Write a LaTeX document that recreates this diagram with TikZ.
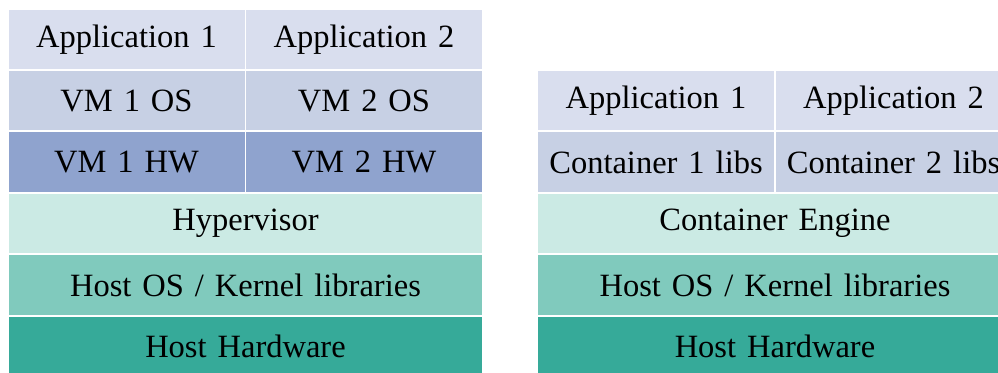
\documentclass[tikz,border=0pt]{standalone}
\usepackage{fontspec}
\setmainfont[WordSpace=1.35]{Liberation Serif}
\definecolor{appc}{RGB}{217,222,238}
\definecolor{osc}{RGB}{199,208,228}
\definecolor{hwc}{RGB}{143,163,206}
\definecolor{hypc}{RGB}{203,234,228}
\definecolor{hostosc}{RGB}{128,202,189}
\definecolor{hosthwc}{RGB}{54,170,153}
\begin{document}
\begin{tikzpicture}[x=1pt,y=-1pt,
  cell/.style={rectangle, draw=white, line width=1.5pt, inner sep=0pt, outer sep=0pt,
    font=\fontsize{32.5}{36}\selectfont, text=black},
  half/.style={cell, minimum width=237.5pt, minimum height=61.3pt},
  full/.style={cell, minimum width=475pt, minimum height=61.3pt}]
\useasboundingbox (0,0) rectangle (998,372);
\clip (0,0) rectangle (998,372);
% left stack
\node[half, fill=appc] (la1) at (126.5,39.5) {Application 1};
\node[half, fill=appc] (la2) at (364,39.5) {Application 2};
\node[half, fill=osc] (los1) at (126.5,100.5) {VM 1 OS};
\node[half, fill=osc] (los2) at (364,100.5) {VM 2 OS};
\node[half, fill=hwc] (lhw1) at (126.5,162) {VM 1 HW};
\node[half, fill=hwc] (lhw2) at (364,162) {VM 2 HW};
\node[full, fill=hypc] (lhyp) at (245.5,223.5) {Hypervisor};
\node[full, fill=hostosc] (lhos) at (245.5,285) {Host OS / Kernel libraries};
\node[full, fill=hosthwc] (lhhw) at (245.5,346.5) {Host Hardware};
% right stack
\node[half, fill=appc] (ra1) at (656,100.5) {Application 1};
\node[half, fill=appc] (ra2) at (893.5,100.5) {Application 2};
\node[half, fill=osc] (rl1) at (656,162) {Container 1 libs};
\node[half, fill=osc] (rl2) at (893.5,162) {Container 2 libs};
\node[full, fill=hypc] (reng) at (775,223.5) {Container Engine};
\node[full, fill=hostosc] (rhos) at (775,285) {Host OS / Kernel libraries};
\node[full, fill=hosthwc] (rhhw) at (775,346.5) {Host Hardware};
\end{tikzpicture}
\end{document}
